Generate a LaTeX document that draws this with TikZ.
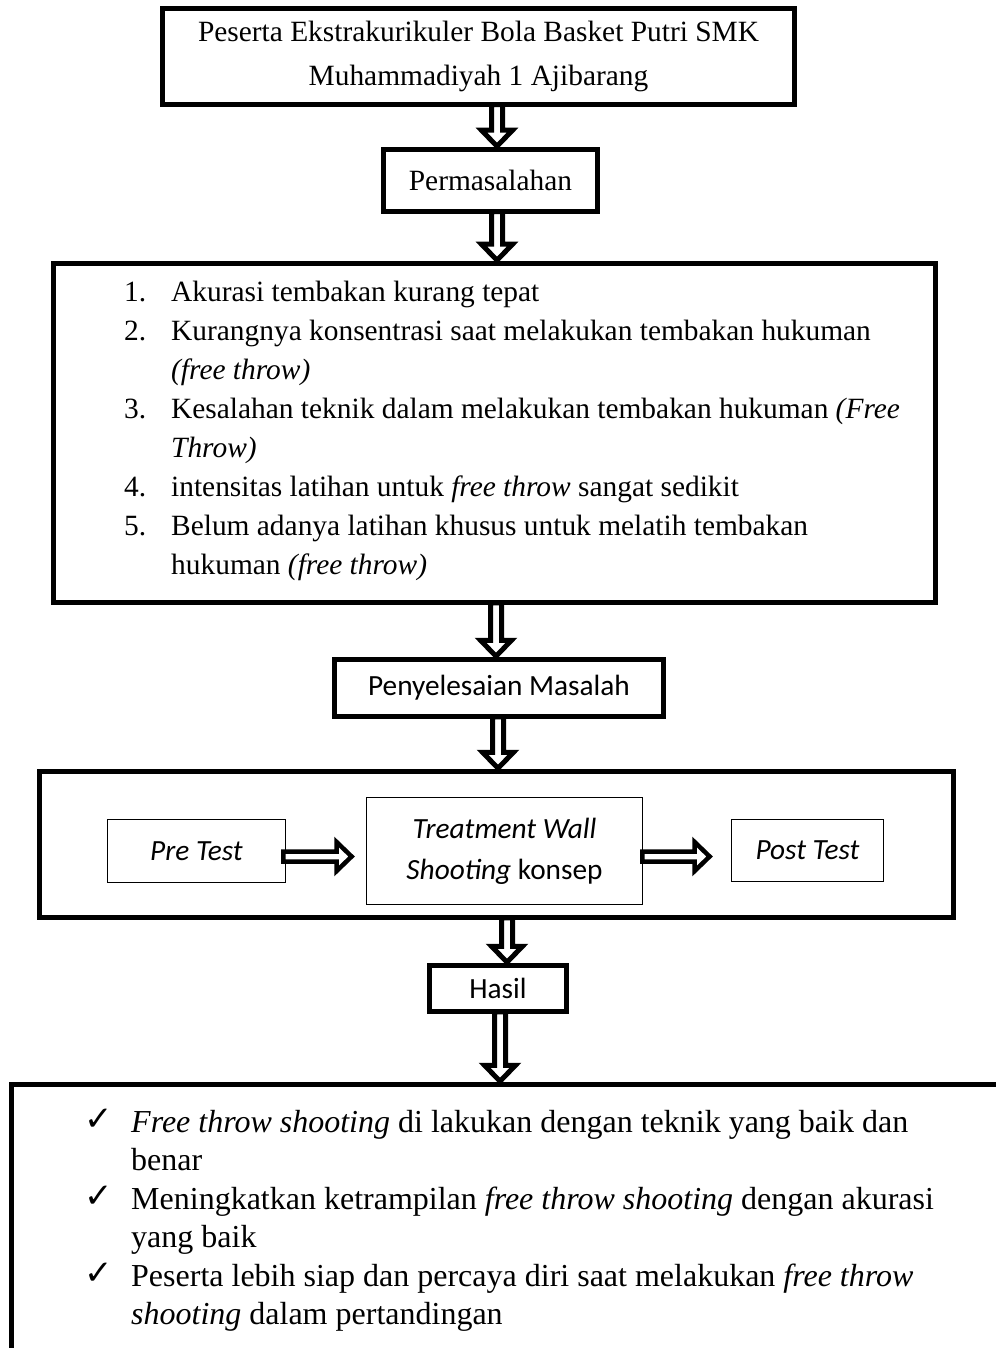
\documentclass[tikz,border=0pt]{standalone}
\usepackage{fontspec}
\setmainfont{Liberation Serif}
\setsansfont{Carlito}
\newfontfamily\ckfont{DejaVu Sans}
\usetikzlibrary{calc}
\newcommand\varrow[3]{%
  \draw[varr] let \p1=(#2.south), \p2=(#3.north) in
    (#1pt-5.5pt,\y1) -- (#1pt-5.5pt,\y2+19pt) -- (#1pt-15.5pt,\y2+19pt) -- (#1pt,\y2+3pt)
    -- (#1pt+15.5pt,\y2+19pt) -- (#1pt+5.5pt,\y2+19pt) -- (#1pt+5.5pt,\y1) -- cycle;}
\newcommand\harrow[4]{%
  \draw[harr] let \p1=(#1.east), \p2=(#2.west) in
    (\x1+#3,-851.5pt) -- (\x2-#4-17pt,-851.5pt) -- (\x2-#4-17pt,-842pt) -- (\x2-#4-2pt,-856.5pt)
    -- (\x2-#4-17pt,-871pt) -- (\x2-#4-17pt,-861.5pt) -- (\x1+#3,-861.5pt) -- cycle;}
\newcommand\ck{\raisebox{2pt}{\ckfont\fontsize{34}{34}\selectfont ✓}}
\begin{document}
\begin{tikzpicture}[x=1pt,y=1pt,
  thickbox/.style={draw, line width=4.8pt, inner sep=0pt, outer sep=0pt},
  thinbox/.style={draw, line width=1.2pt, inner sep=0pt, outer sep=0pt},
  serif/.style={font=\fontsize{29.4}{39}\selectfont\rmfamily},
  bigserif/.style={font=\fontsize{32}{38.5}\selectfont\rmfamily},
  sans/.style={font=\fontsize{29.3}{41}\selectfont\sffamily},
  varr/.style={draw, line width=5pt, fill=white, line join=miter, miter limit=10},
  harr/.style={draw, line width=4.5pt, fill=white, line join=miter, miter limit=10}]
\useasboundingbox (0,0) rectangle (995,-1348);

\node[thickbox, align=center, minimum width=632.5pt, minimum height=96.5pt,
  font=\fontsize{29.4}{44}\selectfont\rmfamily] (b1) at (478.5,-56.5)
  {Peserta Ekstrakurikuler Bola Basket Putri SMK\\Muhammadiyah 1 Ajibarang};
\node[thickbox, serif, minimum width=214.5pt, minimum height=62.5pt] (b2) at (490.5,-180.5) {Permasalahan};
\node[thickbox, minimum width=882.5pt, minimum height=339.5pt] (b3) at (494.5,-433) {};
\node[anchor=base west, inner sep=0pt, serif] (list) at (124,-301) {%
\begin{tabular}[t]{@{}p{47pt}@{}l@{}}
1. & Akurasi tembakan kurang tepat\\
2. & Kurangnya konsentrasi saat melakukan tembakan hukuman\\
   & \textit{(free throw)}\\
3. & Kesalahan teknik dalam melakukan tembakan hukuman \textit{(Free}\\
   & \textit{Throw)}\\
4. & intensitas latihan untuk \textit{free throw} sangat sedikit\\
5. & Belum adanya latihan khusus untuk melatih tembakan\\
   & hukuman \textit{(free throw)}
\end{tabular}};
\node[thickbox, sans, minimum width=329.5pt, minimum height=57.5pt] (b4) at (499,-688) {Penyelesaian Masalah};
\node[thickbox, minimum width=914.5pt, minimum height=146.5pt] (b5) at (496.5,-844.5) {};
\node[thinbox, sans, minimum width=177.8pt, minimum height=62.8pt] (pre) at (196.5,-851) {\textit{Pre Test}};
\node[thinbox, sans, align=center, minimum width=275.8pt, minimum height=106.8pt] (treat) at (504.5,-851)
  {\textit{Treatment Wall}\\\textit{Shooting} konsep};
\node[thinbox, sans, minimum width=151.8pt, minimum height=61.8pt] (post) at (807.5,-850.5) {\textit{Post Test}};
\node[thickbox, sans, minimum width=137.5pt, minimum height=46.5pt] (b6) at (498,-988.5) {Hasil};
\node[thickbox, minimum width=1006.5pt, minimum height=313.5pt] (b7) at (514.5,-1241) {};
\node[anchor=base west, inner sep=0pt, bigserif] (res) at (84,-1132) {%
\begin{tabular}[t]{@{}p{47pt}@{}l@{}}
\ck & \textit{Free throw shooting} di lakukan dengan teknik yang baik dan\\
    & benar\\
\ck & Meningkatkan ketrampilan \textit{free throw shooting} dengan akurasi\\
    & yang baik\\
\ck & Peserta lebih siap dan percaya diri saat melakukan \textit{free throw}\\
    & \textit{shooting} dalam pertandingan
\end{tabular}};

\varrow{497}{b1}{b2}
\varrow{497}{b2}{b3}
\varrow{496}{b3}{b4}
\varrow{498}{b4}{b5}
\varrow{507}{b5}{b6}
\varrow{500}{b6}{b7}
\harrow{pre}{treat}{-2pt}{13pt}
\harrow{treat}{post}{0pt}{20pt}
\end{tikzpicture}
\end{document}
